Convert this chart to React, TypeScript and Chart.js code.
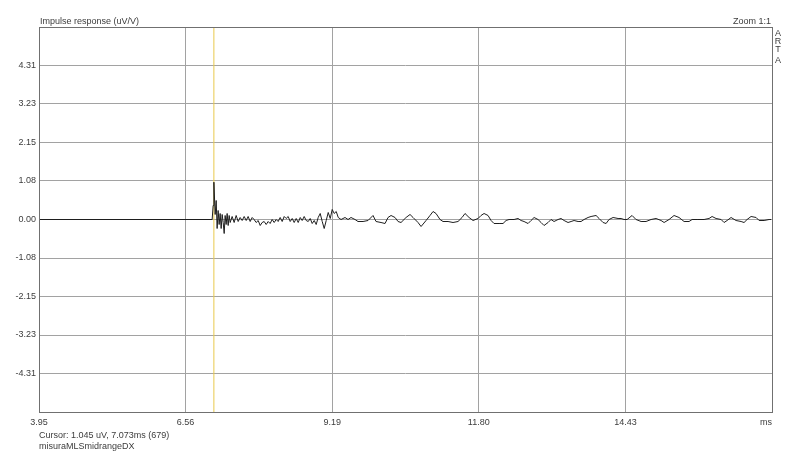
import React, { useEffect, useRef } from "react";
import { Chart, registerables } from "chart.js";

Chart.register(...registerables);

// ---- data (time in ms, response in uV/V) ----
const TIME_MS = [
  3.95, 7.042, 7.06, 7.073, 7.096, 7.114, 7.131, 7.149, 7.167, 7.185, 7.203, 7.221, 7.239, 7.257, 7.274, 7.292,
  7.31, 7.328, 7.346, 7.364, 7.399, 7.435, 7.471, 7.507, 7.542, 7.578, 7.614, 7.65, 7.685, 7.721, 7.757, 7.792,
  7.828, 7.864, 7.9, 7.935, 7.971, 8.007, 8.043, 8.078, 8.114, 8.15, 8.186, 8.221, 8.257, 8.293, 8.329, 8.364,
  8.4, 8.436, 8.472, 8.507, 8.543, 8.579, 8.615, 8.65, 8.686, 8.722, 8.758, 8.793, 8.829, 8.865, 8.9, 8.936,
  8.972, 9.008, 9.043, 9.079, 9.115, 9.151, 9.186, 9.222, 9.258, 9.294,
  9.344, 9.415, 9.469, 9.522, 9.594, 9.647, 9.737, 9.826, 9.915, 9.969, 10.058, 10.13, 10.183, 10.237, 10.308,
  10.362, 10.415, 10.505, 10.576, 10.63, 10.719, 10.773, 10.862, 10.933, 10.987, 11.04, 11.112, 11.165, 11.255,
  11.344, 11.433, 11.505, 11.558, 11.63, 11.701, 11.791,
  11.844, 11.898, 11.969, 12.023, 12.076, 12.166, 12.237, 12.291, 12.344, 12.434, 12.505, 12.559, 12.612, 12.684,
  12.737, 12.791, 12.862, 12.916, 12.969, 13.041, 13.094, 13.148, 13.219, 13.273, 13.327, 13.398, 13.452, 13.505,
  13.577, 13.63, 13.684, 13.755, 13.809, 13.898, 13.952, 14.023, 14.077, 14.13, 14.202, 14.291, 14.345, 14.398,
  14.452, 14.541, 14.612, 14.702, 14.791, 14.88, 14.97, 15.059, 15.113, 15.202, 15.291, 15.38, 15.47, 15.559,
  15.613, 15.702, 15.827, 15.916, 15.97, 16.041, 16.131, 16.184, 16.238, 16.309, 16.398, 16.488, 16.541, 16.595,
  16.666, 16.756, 16.809, 16.899, 16.988, 17.024,
];

const RESPONSE_UV = [
  0, 0, 0.392, 1.045, 0.14, 0.532, -0.252, 0.252, -0.14, 0.168, -0.252, 0.14, -0.084, -0.392, 0.112, -0.14,
  0.168, -0.168, 0.112, -0.084, 0.084, -0.084, 0.112, -0.056, 0.056, -0.028, 0.084, -0.028, 0.084, -0.056, 0.056, 0,
  -0.084, -0.028, -0.168, -0.084, -0.056, -0.14, -0.056, -0.112, 0, -0.084, 0, -0.056, 0.056, -0.056, 0.084, 0.028,
  0.084, -0.056, 0.028, -0.084, 0.028, -0.084, 0.056, -0.028, 0.084, -0.028, -0.056, 0.028, -0.112, -0.028, -0.14, 0.056,
  0.168, -0.056, -0.252, -0.028, 0.196, 0.028, 0.28, 0.168, 0.224, 0.056,
  0, 0.056, 0, 0.056, 0, -0.056, -0.056, -0.028, 0.112, -0.056, -0.084, -0.112, 0.056, 0.112, 0.056,
  -0.056, -0.084, 0.056, 0.14, 0.056, -0.084, -0.196, -0.028, 0.112, 0.224, 0.168, 0, -0.056, -0.056,
  -0.084, -0.056, 0.056, 0.168, 0.056, -0.028, 0.028,
  0.112, 0.168, 0.112, -0.028, -0.112, -0.112, -0.112, -0.028, 0, 0, 0.028, -0.028, -0.056, -0.112,
  -0.028, 0.056, 0, -0.084, -0.168, -0.084, 0, -0.056, 0, 0.028, -0.028, -0.084, -0.056, -0.028,
  -0.056, -0.056, 0, 0.056, 0.084, 0.112, 0.028, -0.084, -0.112, 0, 0.056, 0.028, 0.028, 0,
  0, 0.112, 0, -0.056, -0.056, 0, 0.028, -0.028, -0.084, 0, 0.112, 0.056, -0.056, -0.056,
  0, 0, 0, 0.028, 0.084, 0.028, 0, -0.084, -0.028, 0.056, -0.028, -0.056, -0.084, 0,
  0.084, 0.056, -0.028, -0.028, 0, 0,
];

const CURSOR_MS = 7.073;
const CURSOR_UV = 1.045;
const CURSOR_SAMPLE = 679;

const X_MIN = 3.95;
const X_MAX = 17.04;
const X_DIVISIONS = 5;
const X_TICK_LABELS = ["3.95", "6.56", "9.19", "11.80", "14.43", "ms"];

const Y_LIMIT = 5.3875;
const Y_DIVISIONS = 10;
const Y_TICK_LABELS = ["4.31", "3.23", "2.15", "1.08", "0.00", "-1.08", "-2.15", "-3.23", "-4.31"];

const TITLE = "Impulse response (uV/V)";
const ZOOM_TEXT = "Zoom 1:1";
const BRAND = ["A", "R", "T", "A"];
const FILE_NAME = "misuraMLSmidrangeDX";

// ---- styles ----
const FONT_FAMILY = '"Liberation Sans", Arial, sans-serif';
const TEXT_COLOR = "#3c3c3c";
const GRID_COLOR = "#a2a2a2";
const FRAME_COLOR = "#707070";
const TRACE_COLOR = "#1e1e1e";
const CURSOR_COLOR = "#e9c94c";

const overlay = {
  id: "artaOverlay",
  afterDraw(chart: any) {
    const { ctx, chartArea } = chart;
    const { left, right, top, bottom } = chartArea;
    const xs = chart.scales.x;
    ctx.save();
    // frame
    ctx.strokeStyle = FRAME_COLOR;
    ctx.lineWidth = 1;
    ctx.strokeRect(Math.round(left) + 0.5, Math.round(top) + 0.5, Math.round(right - left) - 0, Math.round(bottom - top));

    ctx.fillStyle = TEXT_COLOR;
    ctx.font = `9px ${FONT_FAMILY}`;
    ctx.textBaseline = "alphabetic";

    // title & zoom
    ctx.textAlign = "left";
    ctx.fillText(TITLE, left + 1, top - 3);
    ctx.textAlign = "right";
    ctx.fillText(ZOOM_TEXT, right - 1, top - 3);

    // ARTA vertical
    ctx.textAlign = "center";
    const brandY = [36, 44, 52, 63];
    BRAND.forEach((ch, i) => ctx.fillText(ch, right + 6, brandY[i]));

    // x tick labels
    X_TICK_LABELS.forEach((lab, i) => {
      const v = X_MIN + (i * (X_MAX - X_MIN)) / X_DIVISIONS;
      const px = xs.getPixelForValue(v);
      if (i === X_TICK_LABELS.length - 1) {
        ctx.textAlign = "right";
        ctx.fillText(lab, px, bottom + 13);
      } else {
        ctx.textAlign = "center";
        ctx.fillText(lab, px, bottom + 13);
      }
    });

    // cursor / file info
    ctx.textAlign = "left";
    ctx.fillText(
      `Cursor: ${CURSOR_UV.toFixed(3)} uV, ${CURSOR_MS.toFixed(3)}ms (${CURSOR_SAMPLE})`,
      left,
      bottom + 26
    );
    ctx.fillText(FILE_NAME, left, bottom + 37);
    ctx.restore();
  },
};

export default function App() {
  const ref = useRef<HTMLCanvasElement>(null);

  useEffect(() => {
    const canvas = ref.current;
    if (!canvas) return;
    const points = TIME_MS.map((t, i) => ({ x: t, y: RESPONSE_UV[i] }));
    const chart = new Chart(canvas, {
      type: "line",
      data: {
        datasets: [
          {
            label: "Impulse response",
            data: points,
            borderColor: TRACE_COLOR,
            borderWidth: 1,
            pointRadius: 0,
            tension: 0,
            fill: false,
            order: 0,
          },
          {
            label: "Cursor",
            data: [
              { x: CURSOR_MS, y: -Y_LIMIT },
              { x: CURSOR_MS, y: Y_LIMIT },
            ],
            borderColor: CURSOR_COLOR,
            borderWidth: 1,
            pointRadius: 0,
            fill: false,
            order: 1,
          },
        ],
      },
      options: {
        animation: false,
        responsive: false,
        maintainAspectRatio: false,
        layout: { padding: { left: 0, top: 27, right: 28, bottom: 0 } },
        plugins: { legend: { display: false }, tooltip: { enabled: false } },
        scales: {
          x: {
            type: "linear",
            min: X_MIN,
            max: X_MAX,
            afterBuildTicks: (s: any) => {
              s.ticks = Array.from({ length: X_DIVISIONS + 1 }, (_, i) => ({
                value: X_MIN + (i * (X_MAX - X_MIN)) / X_DIVISIONS,
              }));
            },
            afterFit: (s: any) => {
              s.height = 42;
            },
            ticks: { display: false },
            grid: { color: GRID_COLOR, drawTicks: false, lineWidth: 1 },
            border: { display: false },
          },
          y: {
            type: "linear",
            min: -Y_LIMIT,
            max: Y_LIMIT,
            afterBuildTicks: (s: any) => {
              s.ticks = Array.from({ length: Y_DIVISIONS + 1 }, (_, i) => ({
                value: -Y_LIMIT + (i * 2 * Y_LIMIT) / Y_DIVISIONS,
              }));
            },
            afterFit: (s: any) => {
              s.width = 39;
            },
            ticks: {
              padding: 3,
              color: TEXT_COLOR,
              font: { family: FONT_FAMILY, size: 9 },
              autoSkip: false,
              callback: (_v: any, i: number) =>
                i === 0 || i === Y_DIVISIONS ? "" : Y_TICK_LABELS[Y_DIVISIONS - 1 - i],
            },
            grid: { color: GRID_COLOR, drawTicks: false, lineWidth: 1 },
            border: { display: false },
          },
        },
      },
      plugins: [overlay],
    });
    return () => chart.destroy();
  }, []);

  return (
    <div style={{ position: "fixed", left: 0, top: 0, width: 800, height: 454, background: "#ffffff" }}>
      <canvas ref={ref} width={800} height={454} style={{ display: "block" }} />
    </div>
  );
}
